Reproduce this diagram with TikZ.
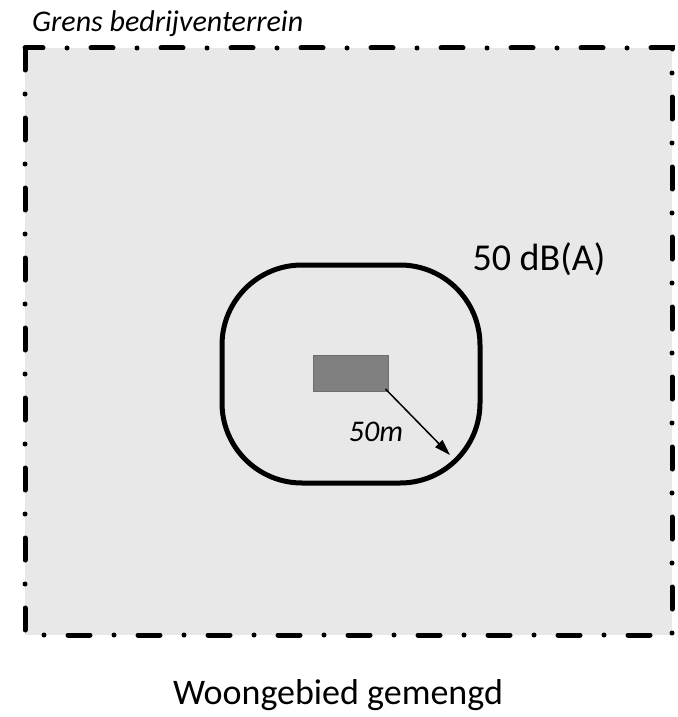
\documentclass[tikz,border=0pt]{standalone}
\usepackage{fontspec}
\setmainfont{Carlito}
\usepackage{tikz}
\usetikzlibrary{arrows.meta}
\definecolor{bronvlak}{HTML}{808080}
\definecolor{bronrand}{HTML}{6E6E6E}
\definecolor{terrein}{HTML}{E8E8E8}

\begin{document}
\begin{tikzpicture}[x=1pt, y=-1pt,
    grens/.style={line width=5pt, line cap=round, dash pattern=on 22pt off 24pt on 0pt off 24pt},
    contour/.style={draw, line width=5pt, rounded corners=80pt, minimum width=258pt, minimum height=218pt},
    bron/.style={draw=bronrand, fill=bronvlak, line width=1pt, minimum width=75pt, minimum height=36pt},
    label/.style={inner sep=0pt}]
        \useasboundingbox (0,0) rectangle (677,717);

        % Draw the site boundary
        \fill[terrein] (25,48) rectangle (672,635);
        \draw[grens] (25,48) -- (25,635) -- (672,635) -- (672,48) -- cycle;
        \node[label, anchor=west] (grenslabel) at (32,24) {\fontsize{30}{36}\selectfont\itshape Grens bedrijventerrein};

        % Draw the 50 dB(A) contour
        \node[contour] (contour) at (351,374) {};
        \node[label] (dba) at (539,259) {\fontsize{38}{45}\selectfont 50 dB(A)};

        % Draw the source and the distance arrow
        \node[bron] (bron) at (350.5,373.5) {};
        \coordinate (tip) at (450,455);
        \draw[line width=1.5pt, -{Triangle[length=16pt, width=10pt]}] ([shift={(-3,-3)}]bron.south east) -- (tip);
        \node[label] (afstand) at (376,432) {\fontsize{30}{36}\selectfont\itshape 50m};

        % Draw the residential area label
        \node[label] (woon) at (338,695) {\fontsize{36}{43}\selectfont Woongebied gemengd};
\end{tikzpicture}
\end{document}
